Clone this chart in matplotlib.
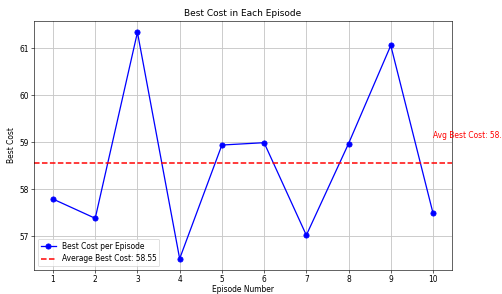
import numpy as np
import matplotlib
matplotlib.use('Agg')
import matplotlib.pyplot as plt

# best cost of each episode
episodes = [1, 2, 3, 4, 5, 6, 7, 8, 9, 10]
best_cost = [57.79, 57.38, 61.34, 56.52, 58.94, 58.99, 57.02, 58.97, 61.06, 57.49]
avg_cost = np.mean(best_cost)

fig = plt.figure(figsize=(502 / 54, 294 / 54), dpi=54)
ax = fig.add_axes([0.0677, 0.0816, 0.8327, 0.847])

ax.plot(episodes, best_cost, marker='o', linestyle='-', color='b', linewidth=1.7,
        markersize=7, label='Best Cost per Episode')
ax.axhline(y=avg_cost, color='r', linestyle='--', linewidth=2,
           label=f'Average Best Cost: {avg_cost:.2f}')
ax.text(episodes[-1], avg_cost + 0.55, f'Avg Best Cost: {avg_cost:.2f}', color='red')

ax.set_title('Best Cost in Each Episode')
ax.set_xlabel('Episode Number', labelpad=1.5)
ax.set_ylabel('Best Cost')
ax.set_xticks(episodes)
ax.legend(loc='lower left')
ax.grid(True, color='#c8c8c8', linewidth=1.2)

fig.savefig('out.png', dpi=54)
